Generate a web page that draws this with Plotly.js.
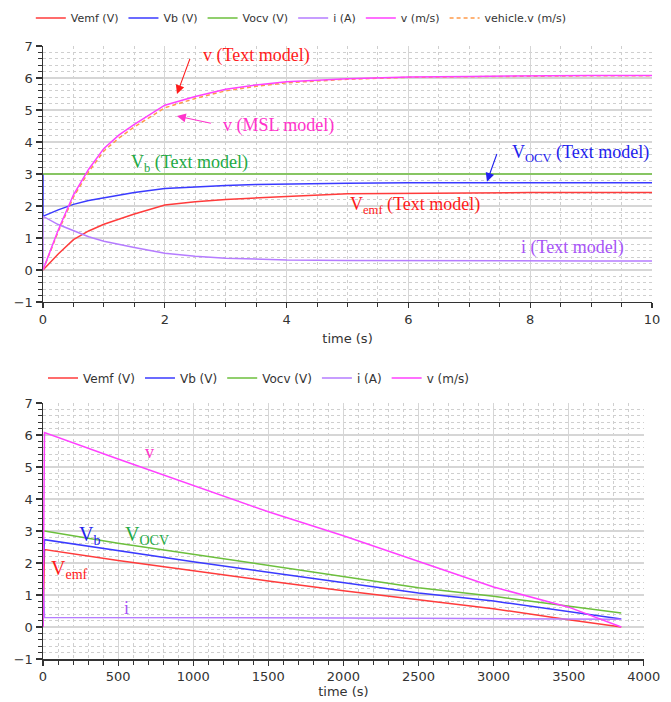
<!DOCTYPE html>
<html>
<head>
<meta charset="utf-8">
<script src="https://cdn.plot.ly/plotly-3.0.1.min.js"></script>
<style>html,body{margin:0;padding:0;background:#fff;}#chart{width:671px;height:702px;}</style>
</head>
<body>
<div id="chart"></div>
<script>
// ---- Top chart (0..10 s) ----
const t1      = [0, 0, 0.25, 0.5, 0.75, 1, 1.25, 1.5, 2, 2.5, 3, 3.5, 4, 5, 6, 7, 8, 9, 10];
const vemf1   = [0, 0, 0.5, 0.95, 1.22, 1.43, 1.6, 1.75, 2.03, 2.13, 2.2, 2.26, 2.3, 2.38, 2.4, 2.41, 2.42, 2.42, 2.42];
const vb1     = [3.0, 1.68, 1.88, 2.05, 2.17, 2.26, 2.35, 2.42, 2.55, 2.6, 2.64, 2.67, 2.69, 2.71, 2.73, 2.73, 2.73, 2.73, 2.73];
const vocv1   = [3.0, 3.0, 3.0, 3.0, 3.0, 3.0, 3.0, 3.0, 3.0, 3.0, 3.0, 3.0, 3.0, 3.0, 3.0, 3.0, 3.0, 3.0, 3.0];
const i1      = [0, 1.68, 1.42, 1.22, 1.04, 0.9, 0.79, 0.7, 0.52, 0.43, 0.37, 0.34, 0.31, 0.3, 0.29, 0.29, 0.28, 0.28, 0.28];
const v1      = [0, 0, 1.25, 2.35, 3.15, 3.8, 4.22, 4.55, 5.15, 5.42, 5.65, 5.78, 5.88, 5.98, 6.03, 6.05, 6.07, 6.08, 6.08];
const vehv1   = [0, 0, 1.2, 2.28, 3.07, 3.72, 4.13, 4.47, 5.07, 5.36, 5.6, 5.74, 5.85, 5.96, 6.02, 6.04, 6.06, 6.07, 6.07];

// ---- Bottom chart (0..3850 s) ----
const t2      = [0, 0, 10, 500, 1000, 1500, 2000, 2500, 3000, 3500, 3850];
const vemf2   = [0, 0, 2.42, 2.08, 1.75, 1.44, 1.13, 0.86, 0.57, 0.23, 0.0];
const vb2     = [3.0, 1.68, 2.73, 2.38, 2.04, 1.71, 1.39, 1.06, 0.81, 0.49, 0.25];
const vocv2   = [3.0, 3.0, 3.0, 2.62, 2.27, 1.93, 1.58, 1.23, 0.96, 0.65, 0.44];
const i2      = [0, 1.68, 0.3, 0.3, 0.28, 0.28, 0.28, 0.27, 0.26, 0.25, 0.24];
const v2      = [0, 0, 6.08, 5.25, 4.43, 3.6, 2.85, 2.05, 1.25, 0.62, 0.0];

const names1 = ['Vemf (V)', 'Vb (V)', 'Vocv (V)', 'i (A)', 'v (m/s)', 'vehicle.v (m/s)'];
const names2 = ['Vemf (V)', 'Vb (V)', 'Vocv (V)', 'i (A)', 'v (m/s)'];

const C = {red:'#ff3b3b', blue:'#3a3aff', green:'#6cbf3c', purple:'#b57cff', mag:'#ff40ff', orange:'#ff9a4a'};
const lw = 1.5;

function tr(x, y, name, color, xa, ya, leg, dash) {
  return {x:x, y:y, name:name, type:'scatter', mode:'lines', xaxis:xa, yaxis:ya, legend:leg,
          line:{color:color, width:lw, dash:dash||'solid'}, hoverinfo:'skip'};
}

const data = [
  tr(t1, vemf1, names1[0], C.red, 'x', 'y', 'legend'),
  tr(t1, vb1, names1[1], C.blue, 'x', 'y', 'legend'),
  tr(t1, vocv1, names1[2], C.green, 'x', 'y', 'legend'),
  tr(t1, i1, names1[3], C.purple, 'x', 'y', 'legend'),
  tr(t1, vehv1, names1[5], C.orange, 'x', 'y', 'legend', '4px,3px'),
  tr(t1, v1, names1[4], C.mag, 'x', 'y', 'legend'),
  tr(t2, vemf2, names2[0], C.red, 'x2', 'y2', 'legend2'),
  tr(t2, vb2, names2[1], C.blue, 'x2', 'y2', 'legend2'),
  tr(t2, vocv2, names2[2], C.green, 'x2', 'y2', 'legend2'),
  tr(t2, i2, names2[3], C.purple, 'x2', 'y2', 'legend2'),
  tr(t2, v2, names2[4], C.mag, 'x2', 'y2', 'legend2')
];
// legend order: keep v before vehicle.v
data.forEach((d,k)=>{ d.legendrank = 1000+k; });
data[4].legendrank = 1006; data[5].legendrank = 1005;

const tickFont = {family:'DejaVu Sans, Verdana, sans-serif', size:13, color:'#333'};
const legFont1 = {family:'DejaVu Sans, Verdana, sans-serif', size:11, color:'#333'};
const legFont2 = {family:'DejaVu Sans, Verdana, sans-serif', size:12, color:'#333'};
const gridMajor = '#d6d6d6';
const gridMinor = '#cfcfcf';

function xaxisDef(range, dtick, mdtick, domain, anchor, standoff) {
  return {range:range, dtick:dtick, tick0:0, domain:domain, anchor:anchor,
    showline:true, linecolor:'#333', linewidth:1.5, zeroline:false,
    showgrid:true, gridcolor:gridMajor, gridwidth:1.2,
    ticks:'outside', ticklen:5, tickcolor:'#333', tickwidth:1.2,
    tickfont:tickFont,
    minor:{dtick:mdtick, tick0:0, showgrid:true, gridcolor:gridMinor, griddash:'dot', gridwidth:1,
           ticks:'outside', ticklen:4, tickcolor:'#333', tickwidth:1},
    title:{text:'time (s)', font:{family:'DejaVu Sans, Verdana, sans-serif', size:13, color:'#333'}, standoff:standoff}
  };
}
function yaxisDef(domain, anchor) {
  return {range:[-1,7], dtick:1, tick0:0, domain:domain, anchor:anchor,
    showline:true, linecolor:'#333', linewidth:1.5, zeroline:false,
    showgrid:true, gridcolor:gridMajor, gridwidth:1.2,
    ticks:'outside', ticklen:6, tickcolor:'#333', tickwidth:1.2,
    tickfont:tickFont,
    minor:{dtick:0.2, tick0:0, showgrid:true, gridcolor:gridMinor, griddash:'dot', gridwidth:1,
           ticks:'outside', ticklen:4, tickcolor:'#333', tickwidth:1}
  };
}

const serif = 'Liberation Serif, Times New Roman, serif';
function txt(x, y, text, color, xref, yref, size) {
  return {x:x, y:y, xref:xref, yref:yref, text:text, showarrow:false,
          font:{family:serif, size:size||18, color:color}, xanchor:'center', yanchor:'middle'};
}
function arr(x, y, ax, ay, color) {
  return {x:x, y:y, ax:ax, ay:ay, xref:'x', yref:'y', axref:'x', ayref:'y', text:' ',
          showarrow:true, arrowhead:2, arrowsize:1.6, arrowwidth:1.1, arrowcolor:color,
          font:{size:2}};
}

const layout = {
  width:671, height:702,
  margin:{l:43, r:19, t:46, b:43, autoexpand:false},
  paper_bgcolor:'#fff', plot_bgcolor:'#fff',
  showlegend:true,
  xaxis: xaxisDef([0,10], 2, 0.5, [0,1], 'y', 8),
  yaxis: yaxisDef([0.5824,1], 'x'),
  xaxis2: xaxisDef([0,4000], 500, 100, [0,0.9865], 'y2', 3),
  yaxis2: yaxisDef([0,0.4176], 'x2'),
  legend:{orientation:'h', x:-0.02, xanchor:'left', y:1.0457, yanchor:'middle',
          font:legFont1, itemwidth:30, bgcolor:'rgba(0,0,0,0)'},
  legend2:{orientation:'h', x:0, xanchor:'left', y:0.4584, yanchor:'middle',
          font:legFont2, itemwidth:30, bgcolor:'rgba(0,0,0,0)'},
  annotations:[
    arr(2.2, 5.5, 2.43, 6.69, '#ff1a1a'),
    arr(2.2, 4.81, 2.79, 4.57, '#ff33cc'),
    arr(7.29, 2.76, 7.47, 3.72, '#2222ee'),
    txt(3.51, 6.69, 'v (Text model)', '#ff1a1a', 'x', 'y'),
    txt(3.86, 4.53, 'v (MSL model)', '#ff33cc', 'x', 'y'),
    txt(2.41, 3.32, 'V<sub>b</sub> (Text model)', '#22aa44', 'x', 'y'),
    txt(8.83, 3.65, 'V<sub>OCV</sub> (Text model)', '#2222ee', 'x', 'y'),
    txt(6.11, 2.0, 'V<sub>emf</sub> (Text model)', '#ff1a1a', 'x', 'y'),
    txt(8.69, 0.69, 'i (Text model)', '#a855f7', 'x', 'y'),
    txt(710, 5.47, 'v', '#ff33cc', 'x2', 'y2'),
    txt(310, 2.85, 'V<sub>b</sub>', '#2222ee', 'x2', 'y2', 20),
    txt(690, 2.85, 'V<sub>OCV</sub>', '#22aa44', 'x2', 'y2', 20),
    txt(177, 1.8, 'V<sub>emf</sub>', '#ff1a1a', 'x2', 'y2', 20),
    txt(555, 0.58, 'i', '#a855f7', 'x2', 'y2')
  ]
};

Plotly.newPlot('chart', data, layout, {staticPlot:true, displayModeBar:false});
</script>
</body>
</html>
